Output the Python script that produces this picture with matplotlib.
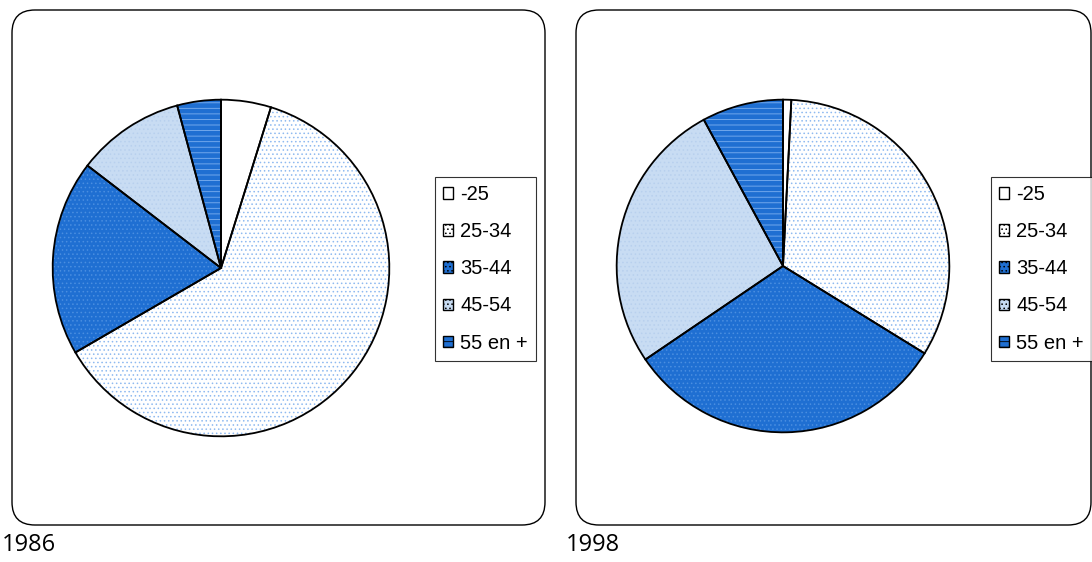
import matplotlib
matplotlib.use("Agg")
import matplotlib.pyplot as plt
from matplotlib.patches import FancyBboxPatch, Patch
from matplotlib.font_manager import FontProperties

categories = ['-25', '25-34', '35-44', '45-54', '55 en +']
v1986 = [4.8, 61.9, 18.8, 10.4, 4.2]
v1998 = [0.8, 33.0, 31.7, 26.6, 7.9]
years = ['1986', '1998']

faces = ['#ffffff', '#ffffff', '#1f6fd2', '#c8dcf3', '#1f6fd2']
hatch_cols = ['#ffffff', '#8fbaf0', '#4a8ee0', '#b8d0ee', '#7db0f0']
hatches = [None, '....', '....', '....', '---']

plt.rcParams['hatch.linewidth'] = 0.6
W, H = 1092, 562
fig = plt.figure(figsize=(W / 100, H / 100), dpi=100)

def fbox(x0, y0, x1, y1):
    return (x0 / W, 1 - y1 / H, (x1 - x0) / W, (y1 - y0) / H)

for (x0, y0, x1, y1) in [(12, 10, 545, 525), (576, 10, 1091, 525)]:
    l, b, w, h = fbox(x0, y0, x1, y1)
    p = FancyBboxPatch((l, b), w, h, boxstyle="round,pad=0,rounding_size=0.021",
                       transform=fig.transFigure, fill=False, edgecolor='black',
                       linewidth=1.0, mutation_aspect=W / H)
    fig.add_artist(p)

def draw_pie(cx, cy, r, vals):
    ax = fig.add_axes(fbox(cx - r, cy - r, cx + r, cy + r))
    ax.set_aspect('equal')
    wedges, _ = ax.pie(vals, startangle=90, counterclock=False, radius=1,
                       colors=faces, wedgeprops=dict(linewidth=0))
    for wdg, hc, ht in zip(wedges, hatch_cols, hatches):
        if ht:
            wdg.set_hatch(ht)
            wdg.set_edgecolor(hc)
            wdg.set_linewidth(0)
    ax.pie(vals, startangle=90, counterclock=False, radius=1,
           wedgeprops=dict(fill=False, edgecolor='black', linewidth=1.3))
    ax.set_xlim(-1.01, 1.01)
    ax.set_ylim(-1.01, 1.01)
    ax.axis('off')
    return ax

draw_pie(221, 268, 170, v1986)
draw_pie(783, 266, 168, v1998)

def make_handles():
    hs = []
    for f, hc, ht in zip(faces, hatch_cols, hatches):
        p = Patch(facecolor=f, edgecolor='black', hatch=ht, linewidth=1.0)
        try:
            p.set_hatchcolor(hc)
        except Exception:
            pass
        hs.append(p)
    return hs

fp = FontProperties(family='Liberation Sans', size=14.5)
for (x0, y0, x1, y1) in [(435, 177, 537, 360), (991, 177, 1088, 360)]:
    l, b, w, h = fbox(x0, y0, x1, y1)
    leg = fig.legend(make_handles(), categories, loc='upper left',
                     bbox_to_anchor=(l, b + h), bbox_transform=fig.transFigure,
                     frameon=True, fancybox=False, edgecolor='black',
                     prop=fp,
                     handlelength=0.5, handleheight=0.5, handletextpad=0.35,
                     labelspacing=0.9, borderpad=0.4, borderaxespad=0)
    leg.get_frame().set_linewidth(0.8)

fig.text(2 / W, 1 - 545 / H, years[0], fontsize=17, family='Open Sans', va='center', ha='left')
fig.text(566 / W, 1 - 545 / H, years[1], fontsize=17, family='Open Sans', va='center', ha='left')

fig.savefig('out.png', dpi=100)
